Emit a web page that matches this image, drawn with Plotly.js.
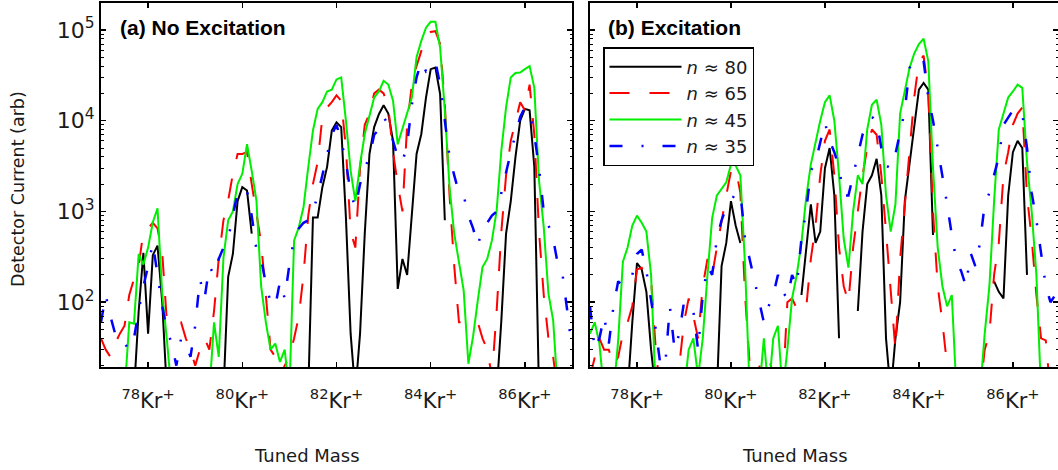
<!DOCTYPE html>
<html>
<head>
<meta charset="utf-8">
<script src="https://cdn.plot.ly/plotly-3.0.1.min.js"></script>
<style>html,body{margin:0;padding:0;background:#fff;}#chart{width:1058px;height:470px;}</style>
</head>
<body>
<div id="chart"></div>
<script>
// Tuned mass grid (amu)
const mass = [77.0,77.1,77.2,77.3,77.4,77.5,77.6,77.7,77.8,77.9,
78.0,78.1,78.2,78.3,78.4,78.5,78.6,78.7,78.8,78.9,
79.0,79.1,79.2,79.3,79.4,79.5,79.6,79.7,79.8,79.9,
80.0,80.1,80.2,80.3,80.4,80.5,80.6,80.7,80.8,80.9,
81.0,81.1,81.2,81.3,81.4,81.5,81.6,81.7,81.8,81.9,
82.0,82.1,82.2,82.3,82.4,82.5,82.6,82.7,82.8,82.9,
83.0,83.1,83.2,83.3,83.4,83.5,83.6,83.7,83.8,83.9,
84.0,84.1,84.2,84.3,84.4,84.5,84.6,84.7,84.8,84.9,
85.0,85.1,85.2,85.3,85.4,85.5,85.6,85.7,85.8,85.9,
86.0,86.1,86.2,86.3,86.4,86.5,86.6,86.7,86.8,86.9,
87.0];

const tickMass = [78, 80, 82, 84, 86];
const tickLabels = ['<sup>78</sup>Kr<sup>+</sup>','<sup>80</sup>Kr<sup>+</sup>','<sup>82</sup>Kr<sup>+</sup>','<sup>84</sup>Kr<sup>+</sup>','<sup>86</sup>Kr<sup>+</sup>'];
const yTickVals = [100, 1000, 10000, 100000];
const yTickLabels = ['10<sup>2</sup>','10<sup>3</sup>','10<sup>4</sup>','10<sup>5</sup>'];

const seriesNames = ['<i>n</i> \u2248 80','<i>n</i> \u2248 65','<i>n</i> \u2248 45','<i>n</i> \u2248 35'];

// (a) No Excitation — detector current (arb)
const n80_noExc = [
10,10,10,10,10,10,10,10,80,350,
45,330,420,100,10,10,10,10,10,10,
10,10,10,10,10,10,10,190,340,1300,
1850,1700,570,null,10,10,10,10,10,10,
10,10,10,10,10,860,860,1850,3100,7800,
9600,8500,860,45,10,45,570,4300,8500,11800,
14800,12000,6000,140,300,200,900,4300,7100,18000,
37000,38500,19600,800,null,10,10,10,10,10,
10,10,10,10,10,63,570,1300,4000,10000,
13500,13000,3100,10,10,10,10,10,10,10,
10];
const n65_noExc = [
40,30,25,35,45,55,120,180,250,600,
650,750,650,350,60,60,60,60,40,30,
20,30,40,30,80,300,800,1320,2600,4300,
4300,4500,2000,1000,450,120,30,25,15,20,
25,40,70,200,900,2000,3500,11000,14000,16000,
19000,16600,5000,600,400,3000,9000,12000,20000,22000,
20000,14000,4500,2000,1000,9000,25000,40000,60000,85000,
95000,97000,70000,15000,1500,250,60,60,60,60,
60,40,30,15,80,600,2500,6000,10000,16000,
13000,25000,7000,600,120,40,25,10,10,10,
10];
const n45_noExc = [
10,10,10,10,10,10,60,58,340,260,
400,760,1080,124,38,10,10,10,10,10,
10,10,10,10,60,25,310,800,1000,2000,
2600,5500,2800,1320,150,60,30,35,22,30,
10,480,670,1120,3070,7800,13500,16000,21000,22000,
28500,30000,10000,2800,1300,3300,7130,11000,18000,21000,
27500,25000,16600,5500,8000,12000,18000,50000,75700,106000,
123000,123000,64000,13000,1850,568,270,135,21,42,
105,244,300,480,1020,4700,14000,30000,33500,34000,
37000,40000,23000,2190,673,124,63,10,10,10,
10];
const n35_noExc = [
60,120,70,45,45,35,30,40,80,150,
250,450,200,90,50,35,20,40,35,25,
55,180,110,250,200,300,400,500,900,1600,
1800,1700,900,380,300,160,100,90,170,110,
260,500,650,750,800,1000,1500,2500,4000,7000,
9000,6000,3500,1600,1100,2000,3000,4000,7000,8000,
11000,9000,6000,4000,3500,5500,15000,30000,45000,35000,
40000,45000,25000,10000,4000,2500,1600,1500,900,650,
420,650,750,900,1000,1600,2800,4500,7000,11000,
14000,12000,7000,3000,1000,700,500,260,200,80,
30];

// (b) Excitation — detector current (arb)
const n80_exc = [
10,10,10,10,10,10,10,10,10,60,
270,230,130,30,10,10,10,10,10,10,
10,10,10,10,10,10,10,10,250,450,
1300,700,450,null,null,null,null,null,null,null,
null,null,null,null,null,120,350,1200,450,600,
3000,5000,1500,40,null,null,null,80,600,2000,
2500,3800,1500,40,10,40,100,1300,3500,9000,
22000,26000,22000,550,null,null,null,null,null,null,
null,null,null,null,null,null,170,130,110,1500,
4500,6000,5000,200,null,null,null,null,null,null,
null];
const n65_exc = [
15,25,40,30,30,20,25,45,60,90,
230,240,190,180,30,10,10,10,10,20,
60,110,70,40,150,300,200,400,800,1500,
2800,3000,1600,120,20,10,20,15,25,15,
10,10,100,110,85,90,85,300,700,2500,
6000,8000,2500,400,150,100,400,1000,2500,5000,
8000,7000,2500,600,120,30,300,1200,4000,18000,
45000,52000,20000,1000,150,60,20,10,10,10,
10,10,10,10,30,45,200,450,2500,4500,
9000,12000,14000,1500,500,120,40,38,10,10,
10];
const n45_exc = [
45,60,35,10,10,10,38,280,400,700,
900,750,600,200,10,10,10,10,10,10,
10,30,40,15,40,200,850,1500,1800,2100,
3300,3200,2500,250,10,10,10,40,10,40,
55,10,30,110,200,450,1400,3300,6000,10000,
16000,19000,10000,2500,500,240,1000,2500,2000,8000,
15000,17000,9000,1500,600,1200,12000,22000,38000,55000,
70000,80000,45000,3000,400,150,90,120,10,10,
10,10,10,10,45,150,1300,8000,12000,18000,
21000,25000,23000,3500,1000,200,10,10,10,10,
10];
const n35_exc = [
90,30,40,70,35,90,170,150,180,200,
340,380,220,110,50,20,20,90,30,45,
100,80,80,30,120,250,200,500,800,1100,
1300,1600,1600,500,300,170,100,60,90,120,
200,130,110,200,150,500,1000,2800,3500,6000,
9500,6000,4500,3000,1500,1500,2500,4000,7000,9000,
11000,10000,5000,3200,3000,4300,7500,13000,38000,48000,
50000,45000,18000,10000,5000,2500,1200,550,280,220,
150,350,250,450,1200,1600,2500,4000,9000,11000,
13000,13500,12000,5000,1600,800,350,150,100,120,
150];

const styles = [
  {color:'#000000', dash:'solid', width:2},
  {color:'#ff0000', dash:'20px,20px', width:2},
  {color:'#00ee00', dash:'solid', width:2},
  {color:'#0000ff', dash:'13px,19px,2px,19px', width:2.5}
];
const panelA = [n80_noExc, n65_noExc, n45_noExc, n35_noExc];
const panelB = [n80_exc, n65_exc, n45_exc, n35_exc];

const traces = [];
panelA.forEach((vals, i) => {
  traces.push({x: mass, y: vals, xaxis:'x', yaxis:'y', type:'scatter', mode:'lines',
    name: seriesNames[i], showlegend:false, connectgaps:false,
    line:{color:styles[i].color, dash:styles[i].dash, width:styles[i].width}, hoverinfo:'skip'});
});
panelB.forEach((vals, i) => {
  traces.push({x: mass, y: vals, xaxis:'x2', yaxis:'y2', type:'scatter', mode:'lines',
    name: seriesNames[i], showlegend:true, connectgaps:false,
    line:{color:styles[i].color, dash:styles[i].dash, width:styles[i].width}, hoverinfo:'skip'});
});

const minorVals = [];
for (let e = 1; e <= 5; e++) for (let d = 2; d <= 9; d++) minorVals.push(d * Math.pow(10, e));

const W = 1058, H = 470;
const fontFam = 'DejaVu Sans, sans-serif';
const xCommon = {
  tickmode:'array', tickvals: tickMass, ticktext: tickLabels,
  ticks:'inside', ticklen:5, tickwidth:1.5, tickcolor:'#000',
  showline:true, linewidth:2, linecolor:'#000', mirror:'ticks',
  showgrid:false, zeroline:false,
  tickfont:{family:fontFam, size:21, color:'#1a1a1a'},
  ticklabelstandoff: 14
};
const yCommon = {
  type:'log', range:[1.286, 5.297],
  tickmode:'array', tickvals: yTickVals, ticktext: yTickLabels,
  ticks:'inside', ticklen:5, tickwidth:1.5, tickcolor:'#000',
  showline:true, linewidth:2, linecolor:'#000', mirror:'ticks',
  showgrid:false, zeroline:false,
  tickfont:{family:fontFam, size:22, color:'#1a1a1a'},
  minor:{tickvals: minorVals, ticks:'inside', ticklen:2.5, tickwidth:1, tickcolor:'#000', showgrid:false},
  domain:[1 - 367/H, 1 - 3/H]
};

const layout = {
  width: W, height: H,
  margin:{l:0, r:0, t:0, b:0},
  paper_bgcolor:'#ffffff', plot_bgcolor:'#ffffff',
  showlegend:true,
  xaxis: Object.assign({}, xCommon, {domain:[101/W, 572/W], range:[77, 87], anchor:'y'}),
  yaxis: Object.assign({}, yCommon, {anchor:'x'}),
  xaxis2: Object.assign({}, xCommon, {domain:[590/W, 1], range:[77, 86.96], anchor:'y2'}),
  yaxis2: Object.assign({}, yCommon, {anchor:'x2', showticklabels:false}),
  legend:{x:603/W, y:1 - 47/H, xanchor:'left', yanchor:'top', bgcolor:'#ffffff',
    bordercolor:'#000', borderwidth:1.5, font:{family:fontFam, size:18, color:'#1a1a1a'},
    tracegroupgap:0, itemwidth:72, entrywidth:170},
  annotations:[
    {text:'<b>(a) No Excitation</b>', xref:'paper', yref:'paper', x:118/W, y:1 - 28/H, xanchor:'left', yanchor:'middle', showarrow:false, font:{family:'Liberation Sans, Arial, sans-serif', size:21, color:'#000'}},
    {text:'<b>(b) Excitation</b>', xref:'paper', yref:'paper', x:606/W, y:1 - 28/H, xanchor:'left', yanchor:'middle', showarrow:false, font:{family:'Liberation Sans, Arial, sans-serif', size:21, color:'#000'}},
    {text:'Tuned Mass', xref:'paper', yref:'paper', x:307/W, y:1 - 455/H, xanchor:'center', yanchor:'middle', showarrow:false, font:{family:fontFam, size:18, color:'#1a1a1a'}},
    {text:'Tuned Mass', xref:'paper', yref:'paper', x:795/W, y:1 - 455/H, xanchor:'center', yanchor:'middle', showarrow:false, font:{family:fontFam, size:18, color:'#1a1a1a'}},
    {text:'Detector Current (arb)', xref:'paper', yref:'paper', x:18/W, y:1 - 189/H, xanchor:'center', yanchor:'middle', textangle:-90, showarrow:false, font:{family:fontFam, size:17.5, color:'#1a1a1a'}}
  ]
};

Plotly.newPlot('chart', traces, layout, {displayModeBar:false, staticPlot:true});
</script>
</body>
</html>
